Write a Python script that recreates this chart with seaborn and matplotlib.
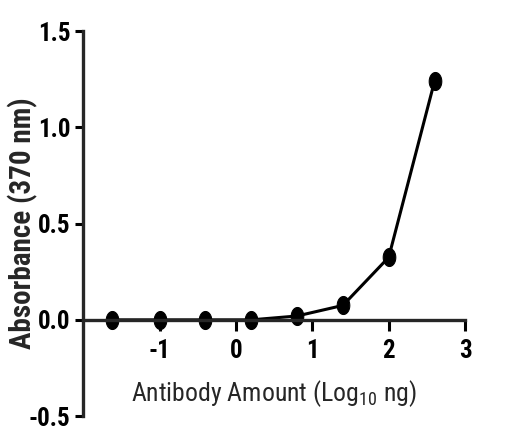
import matplotlib
matplotlib.use("Agg")
import matplotlib.pyplot as plt
from matplotlib.path import Path
import seaborn as sns
import numpy as np
import pandas as pd

# data
log_amount = [-1.62, -1.0, -0.4, 0.2, 0.8, 1.4, 2.0, 2.6]
absorbance = [0.0, 0.0, 0.0, 0.0, 0.02, 0.075, 0.325, 1.24]
x_ticks = [-1, 0, 1, 2, 3]
y_ticks = [-0.5, 0.0, 0.5, 1.0, 1.5]
y_tick_labels = ["-0.5", "0.0", "0.5", "1.0", "1.5"]
x_tick_labels = ["-1", "0", "1", "2", "3"]

sns.set_style("ticks")
FONT = "Roboto Condensed"
plt.rcParams["font.family"] = [FONT, "DejaVu Sans"]
plt.rcParams["mathtext.fontset"] = "custom"
plt.rcParams["mathtext.rm"] = FONT
plt.rcParams["mathtext.it"] = FONT + ":italic"
plt.rcParams["mathtext.bf"] = FONT + ":bold"
plt.rcParams["axes.unicode_minus"] = False

df = pd.DataFrame({"x": log_amount, "y": absorbance})

fig = plt.figure(figsize=(5.10, 4.38), dpi=100)
ax = fig.add_axes([0.163, 0.050, 0.749, 0.879])

t = np.linspace(0, 2 * np.pi, 40)
ell = Path(np.column_stack([0.7 * np.cos(t), np.sin(t)]), closed=True)

sns.lineplot(data=df, x="x", y="y", ax=ax, color="black", linewidth=2.2,
             marker=ell, markersize=13, markeredgecolor="black",
             markerfacecolor="black")

ax.set_xlim(-2.0, 3.0)
ax.set_ylim(-0.5, 1.5)
ax.spines["right"].set_visible(False)
ax.spines["top"].set_visible(False)
ax.spines["bottom"].set_position(("data", 0))
ax.spines["bottom"].set_bounds(-2.0, 3.0)
for s in ("left", "bottom"):
    ax.spines[s].set_linewidth(2.4)
ax.set_xticks(x_ticks)
ax.set_xticklabels(x_tick_labels)
ax.set_yticks(y_ticks)
ax.set_yticklabels(y_tick_labels)
ax.tick_params(axis="both", width=2.2, color="black", labelsize=18, labelcolor="black")
ax.tick_params(axis="x", length=8, pad=6)
ax.tick_params(axis="y", length=6, pad=3)
for lab in ax.get_xticklabels() + ax.get_yticklabels():
    lab.set_fontweight("bold")

ax.set_xlabel(r"Antibody Amount (Log$_{10}$ ng)", fontsize=18.5)
ax.xaxis.label.set_va("center")
ax.xaxis.set_label_coords(0.5, 0.058)
ax.set_ylabel("Absorbance (370 nm)", fontsize=21, fontweight="bold")
ax.yaxis.label.set_va("center")
ax.yaxis.set_label_coords(-0.158, 0.5)

fig.savefig("out.png", dpi=100)
